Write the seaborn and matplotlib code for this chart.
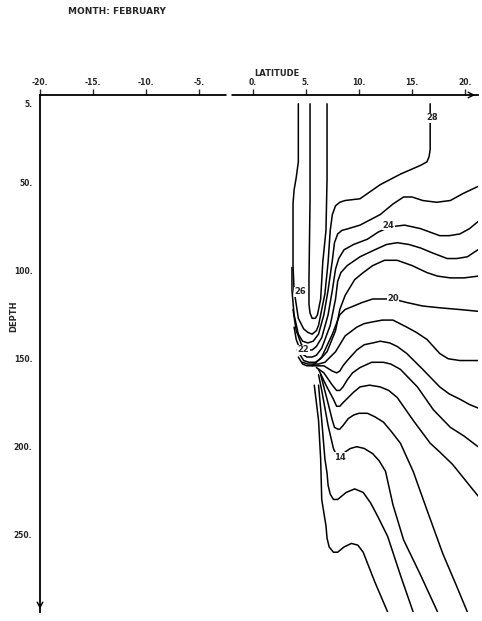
# %%
import matplotlib
matplotlib.use('Agg')
import matplotlib.pyplot as plt
import numpy as np
import pandas as pd
import seaborn as sns

sns.set_style('white')
plt.rcParams['font.family'] = ['DejaVu Sans']
plt.rcParams['font.weight'] = 'bold'

# %%
# Isotherms traced from the section: latitude (deg) and depth (m) pairs
c0_lat = [5.4, 5.4, 5.3, 5.3, 5.4, 5.6, 5.9, 6.1, 6.4, 6.6, 6.9, 7.0, 7.0]
c0_dep = [5, 60, 105, 119, 124, 127, 127, 125, 116, 95, 77, 48, 5]

c1_lat = [4.3, 4.3, 4.1, 3.9, 3.8, 3.8, 3.9, 4.3, 4.8, 5.2, 5.6, 6.0, 6.2, 6.5, 6.8, 7.1, 7.3,
          7.5, 7.8, 8.2, 8.7, 10.1, 12.0, 13.9, 15.8, 16.4, 16.6, 16.7, 16.7]
c1_dep = [5, 38, 47, 54, 62, 97, 111, 127, 133, 135, 136, 134, 131, 122, 113, 95, 77,
          68, 63, 61, 60, 59, 51, 45, 40, 38, 35, 31, 5]

c2_lat = [21.2, 19.8, 18.6, 17.3, 16.0, 15.0, 14.2, 13.2, 12.0, 10.1, 9.0, 8.4, 8.0, 7.7, 7.5,
          7.1, 6.7, 6.2, 5.7, 5.2, 4.7, 4.3, 3.9, 3.7, 3.7]
c2_dep = [52, 56, 60, 61, 60, 58, 58, 62, 68, 74, 76, 77, 79, 84, 94,
          111, 125, 136, 140, 141, 140, 136, 125, 111, 98]

c3_lat = [21.2, 20.4, 19.5, 18.5, 17.6, 16.7, 15.8, 14.3, 12.9, 11.8, 10.8, 9.5, 8.6, 8.1, 7.8,
          7.5, 7.1, 6.5, 6.0, 5.6, 5.1, 4.6, 4.1, 3.8]
c3_dep = [72, 76, 79, 80, 80, 78, 76, 74, 75, 78, 82, 85, 88, 93, 99,
          111, 125, 138, 143, 145, 145, 142, 134, 122]

c4_lat = [21.2, 20.2, 19.2, 18.3, 17.0, 15.8, 14.7, 13.6, 12.6, 11.5, 10.1, 8.9, 8.3, 8.0, 7.8,
          7.3, 6.5, 6.0, 5.6, 5.1, 4.6, 4.1, 3.9]
c4_dep = [88, 92, 93, 93, 90, 87, 85, 84, 85, 88, 92, 97, 101, 106, 116,
          131, 144, 148, 149, 149, 147, 139, 132]

c5_lat = [21.2, 19.9, 18.6, 17.4, 16.4, 15.0, 13.6, 12.4, 11.3, 10.4, 9.6, 8.7, 8.2, 7.8,
          7.0, 6.4, 5.9, 5.3, 4.8, 4.2]
c5_dep = [103, 104, 104, 103, 101, 97, 94, 94, 97, 101, 105, 114, 122, 134,
          146, 150, 152, 152, 151, 145]

c6_lat = [21.2, 19.5, 17.6, 16.0, 14.5, 13.2, 12.2, 11.3, 10.3, 9.5, 8.7, 8.2, 7.5, 6.5,
          6.0, 5.6, 5.1, 4.7, 4.3]
c6_dep = [123, 122, 121, 120, 118, 116, 116, 116, 118, 120, 122, 125, 136, 149,
          152, 154, 154, 153, 149]

c7_lat = [21.2, 19.5, 18.4, 17.6, 16.4, 15.4, 14.5, 13.2, 12.2, 11.3, 10.5, 9.8, 8.7, 7.8,
          6.8, 6.2, 5.7, 5.2, 4.7]
c7_dep = [151, 151, 150, 147, 139, 135, 132, 128, 128, 129, 130, 132, 137, 146,
          152, 153, 153, 153, 152]

c8_lat = [21.2, 20.4, 19.5, 18.5, 17.6, 16.0, 14.5, 13.6, 12.9, 12.0, 11.3, 10.5, 9.8, 8.9,
          8.5, 8.2, 7.9, 7.5, 6.7, 5.6]
c8_dep = [178, 176, 173, 170, 166, 156, 147, 143, 141, 140, 141, 142, 145, 151,
          154, 157, 158, 157, 154, 154]

c9_lat = [21.2, 19.9, 18.6, 17.0, 15.5, 13.9, 13.0, 12.3, 11.2, 10.1, 9.4, 8.9, 8.5, 8.2,
          7.9, 7.5, 6.7, 6.0]
c9_dep = [200, 194, 189, 179, 166, 156, 153, 152, 152, 155, 158, 162, 166, 168,
          168, 165, 158, 155]

c10_lat = [21.2, 20.0, 18.8, 17.6, 16.7, 15.1, 13.6, 12.8, 12.0, 11.0, 10.1, 9.5, 9.0, 8.5,
           8.2, 7.9, 7.6, 6.9, 6.2]
c10_dep = [228, 219, 210, 203, 198, 185, 172, 168, 166, 165, 166, 169, 172, 175,
           177, 177, 173, 165, 156]

c11_lat = [20.2, 19.1, 17.9, 16.4, 15.1, 13.9, 13.0, 12.3, 11.5, 10.8, 10.0, 9.5, 9.0, 8.5,
           8.2, 8.0, 7.7, 7.5, 7.0, 6.4]
c11_dep = [294, 278, 261, 236, 214, 198, 191, 186, 183, 181, 181, 182, 184, 188,
           190, 190, 189, 185, 173, 159]

c12_lat = [17.4, 15.8, 14.2, 13.2, 12.5, 11.9, 11.3, 10.5, 9.8, 9.2, 8.7, 8.4, 8.2, 7.9,
           7.6, 7.1, 6.5, 6.2]
c12_dep = [294, 273, 253, 233, 214, 208, 204, 201, 200, 201, 203, 205, 206, 205,
           201, 188, 168, 159]

c13_lat = [15.1, 13.9, 12.7, 11.8, 11.1, 10.4, 9.6, 8.8, 8.0, 7.6, 7.3, 7.1, 7.0, 6.8, 6.5, 6.2]
c13_dep = [294, 273, 251, 240, 232, 226, 224, 226, 230, 230, 227, 222, 215, 207, 185, 165]

c14_lat = [12.7, 11.5, 10.4, 9.9, 9.3, 8.6, 8.0, 7.6, 7.2, 7.0, 6.9, 6.5, 6.4, 6.2, 5.8]
c14_dep = [294, 277, 260, 256, 255, 257, 260, 260, 257, 252, 245, 230, 207, 185, 165]

# contour labels: text, latitude, depth
lab_text = ['28', '24', '20', '26', '22', '14']
lab_lat = [16.9, 12.8, 13.2, 4.5, 4.8, 8.2]
lab_dep = [13, 74, 116, 112, 145, 206]

xticks = [-20, -15, -10, -5, 0, 5, 10, 15, 20]
yticks = [5, 50, 100, 150, 200, 250]

# %%
lines = [
    (c0_lat, c0_dep), (c1_lat, c1_dep), (c2_lat, c2_dep), (c3_lat, c3_dep),
    (c4_lat, c4_dep), (c5_lat, c5_dep), (c6_lat, c6_dep), (c7_lat, c7_dep),
    (c8_lat, c8_dep), (c9_lat, c9_dep), (c10_lat, c10_dep), (c11_lat, c11_dep),
    (c12_lat, c12_dep), (c13_lat, c13_dep), (c14_lat, c14_dep),
]
iso_df = pd.concat(
    [pd.DataFrame({'lat': la, 'depth': de, 'line': i}) for i, (la, de) in enumerate(lines)],
    ignore_index=True,
)

fig = plt.figure(figsize=(4.82, 6.21), dpi=100)
ax = fig.add_axes([40 / 482, 1 - 612 / 621, 438 / 482, 517 / 621])

sns.lineplot(
    data=iso_df, x='lat', y='depth', units='line', estimator=None, sort=False,
    color='black', linewidth=1.1, ax=ax, legend=False,
)
for ln in ax.lines:
    ln.set_solid_joinstyle('round')

for t, la, de in zip(lab_text, lab_lat, lab_dep):
    ax.text(la, de, t, ha='center', va='center', fontsize=6, fontweight='bold',
            bbox=dict(boxstyle='square,pad=0.05', fc='white', ec='none'))

ax.set_xlim(-20, 21.2)
ax.set_ylim(294, 0)
ax.xaxis.tick_top()
ax.set_xticks(xticks)
ax.set_xticklabels([f'{v}.' for v in xticks])
ax.set_yticks(yticks)
ax.set_yticklabels([f'{v}.' for v in yticks])
ax.tick_params(axis='both', direction='out', length=4, width=1, labelsize=5.5, pad=1.5)
ax.set_xlabel('')
ax.set_ylabel('')

for side in ['right', 'bottom']:
    ax.spines[side].set_visible(False)
for side in ['top', 'left']:
    ax.spines[side].set_linewidth(1.3)
    ax.spines[side].set_color('black')

# small break in the plotted top axis, as on the original print
ax.plot([-2.5, -2.0], [0, 0], color='white', lw=2.5, clip_on=False, zorder=5,
        solid_capstyle='butt')

# arrow heads at the axis ends
ax.annotate('', xy=(1.0, 1.0), xytext=(0.98, 1.0), xycoords='axes fraction',
            arrowprops=dict(arrowstyle='->', lw=1.0, color='black'))
ax.annotate('', xy=(0.0, 0.0), xytext=(0.0, 0.02), xycoords='axes fraction',
            arrowprops=dict(arrowstyle='->', lw=1.0, color='black'))

fig.text(68 / 482, 1 - 12 / 621, 'MONTH: FEBRUARY', ha='left', va='center',
         fontsize=6.5, fontweight='bold')
fig.text(277 / 482, 1 - 73 / 621, 'LATITUDE', ha='center', va='center',
         fontsize=6, fontweight='bold')
fig.text(14 / 482, 1 - 316 / 621, 'DEPTH', ha='center', va='center', rotation=90,
         fontsize=6, fontweight='bold')

plt.savefig('out.png', dpi=100)
